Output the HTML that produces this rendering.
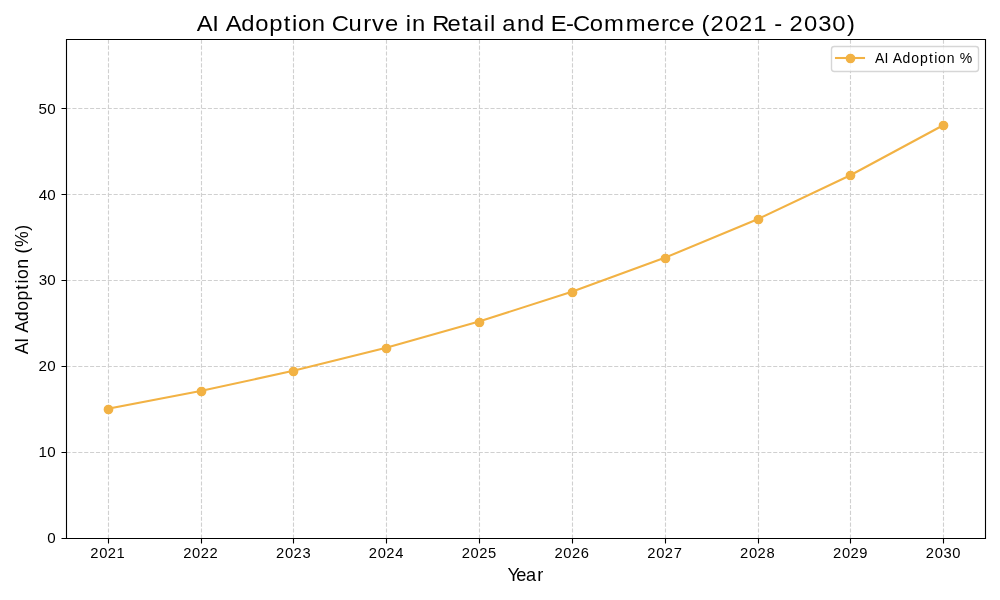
<!DOCTYPE html>
<html><head><meta charset="utf-8"><title>AI Adoption Curve in Retail and E-Commerce (2021 - 2030)</title>
<style>
html,body{margin:0;padding:0;background:#fff;width:1000px;height:600px;overflow:hidden}
svg{display:block;will-change:transform}
text{font-family:"Liberation Sans",sans-serif;fill:#000}
</style></head><body>
<svg width="1000" height="600" viewBox="0 0 1000 600">
<rect x="0" y="0" width="1000" height="600" fill="#fff"/>
<path d="M108.5 538.5V39 M201.5 538.5V39 M293.5 538.5V39 M386.5 538.5V39 M479.5 538.5V39 M572.5 538.5V39 M665.5 538.5V39 M758.5 538.5V39 M850.5 538.5V39 M943.5 538.5V39 M66.5 452.5H985 M66.5 366.5H985 M66.5 280.5H985 M66.5 194.5H985 M66.5 108.5H985" fill="none" stroke="#b0b0b0" stroke-opacity="0.6" stroke-width="1.1111" stroke-dasharray="4.1111 1.7778"/>
<path d="M108.5 538V543.5 M201.5 538V543.5 M293.5 538V543.5 M386.5 538V543.5 M479.5 538V543.5 M572.5 538V543.5 M665.5 538V543.5 M758.5 538V543.5 M850.5 538V543.5 M943.5 538V543.5 M67 538.5H61.5 M67 452.5H61.5 M67 366.5H61.5 M67 280.5H61.5 M67 194.5H61.5 M67 108.5H61.5" stroke="#000" stroke-width="1.1111" fill="none"/>
<polyline points="107.68,408.83 200.52,391.05 293.36,370.81 386.19,347.78 479.03,321.58 571.87,291.76 664.71,257.83 757.55,219.21 850.38,175.27 943.22,125.26" fill="none" stroke="#F2B244" stroke-width="2.0833" stroke-linejoin="round" stroke-linecap="square"/>
<circle cx="108.5" cy="409.5" r="4.1667" fill="#F2B244" stroke="#F2B244" stroke-width="1.3889"/>
<circle cx="201.5" cy="391.5" r="4.1667" fill="#F2B244" stroke="#F2B244" stroke-width="1.3889"/>
<circle cx="293.5" cy="371.5" r="4.1667" fill="#F2B244" stroke="#F2B244" stroke-width="1.3889"/>
<circle cx="386.5" cy="348.5" r="4.1667" fill="#F2B244" stroke="#F2B244" stroke-width="1.3889"/>
<circle cx="479.5" cy="322.5" r="4.1667" fill="#F2B244" stroke="#F2B244" stroke-width="1.3889"/>
<circle cx="572.5" cy="292.5" r="4.1667" fill="#F2B244" stroke="#F2B244" stroke-width="1.3889"/>
<circle cx="665.5" cy="258.5" r="4.1667" fill="#F2B244" stroke="#F2B244" stroke-width="1.3889"/>
<circle cx="758.5" cy="219.5" r="4.1667" fill="#F2B244" stroke="#F2B244" stroke-width="1.3889"/>
<circle cx="850.5" cy="175.5" r="4.1667" fill="#F2B244" stroke="#F2B244" stroke-width="1.3889"/>
<circle cx="943.5" cy="125.5" r="4.1667" fill="#F2B244" stroke="#F2B244" stroke-width="1.3889"/>
<path d="M66.5 538.5V39.5H985.5V538.5Z" fill="none" stroke="#000" stroke-width="1.1111" stroke-linejoin="miter"/>
<rect x="831.5" y="46.5" width="147" height="25" rx="2.7778" fill="#fff" fill-opacity="0.8" stroke="#cccccc" stroke-opacity="0.8" stroke-width="1.3889"/>
<path d="M834.96 58H865.04" stroke="#F2B244" stroke-width="2.0833"/>
<circle cx="850.5" cy="58.5" r="4.1667" fill="#F2B244" stroke="#F2B244" stroke-width="1.3889"/>
<text transform="scale(1.06 1.0)" x="85.15 93.57 101.66 110.01" y="558.000" font-size="13.89">2021</text>
<text transform="scale(1.06 1.0)" x="172.79 181.22 189.30 197.55" y="558.000" font-size="13.89">2022</text>
<text transform="scale(1.06 1.0)" x="260.37 268.80 276.88 285.33" y="558.000" font-size="13.89">2023</text>
<text transform="scale(1.06 1.0)" x="347.95 356.38 364.46 372.89" y="558.000" font-size="13.89">2024</text>
<text transform="scale(1.06 1.0)" x="435.54 443.97 452.05 460.42" y="558.000" font-size="13.89">2025</text>
<text transform="scale(1.06 1.0)" x="523.06 531.49 539.57 548.00" y="558.000" font-size="13.89">2026</text>
<text transform="scale(1.06 1.0)" x="610.70 619.13 627.21 635.61" y="558.000" font-size="13.89">2027</text>
<text transform="scale(1.06 1.0)" x="698.23 706.66 714.74 723.16" y="558.000" font-size="13.89">2028</text>
<text transform="scale(1.06 1.0)" x="785.81 794.24 802.32 810.71" y="558.000" font-size="13.89">2029</text>
<text transform="scale(1.06 1.0)" x="873.45 881.88 890.15 898.39" y="558.000" font-size="13.89">2030</text>
<text transform="scale(1.1 1.02)" x="43.07" y="532.353" font-size="13.79">0</text>
<text transform="scale(1.1 1.02)" x="34.93 43.07" y="448.039" font-size="13.79">10</text>
<text transform="scale(1.1 1.02)" x="34.95 43.07" y="363.725" font-size="13.79">20</text>
<text transform="scale(1.1 1.02)" x="35.13 43.07" y="279.412" font-size="13.79">30</text>
<text transform="scale(1.1 1.02)" x="35.12 43.07" y="196.078" font-size="13.79">40</text>
<text transform="scale(1.1 1.02)" x="35.07 43.07" y="111.765" font-size="13.79">50</text>
<text transform="scale(1.04 0.96)" x="189.22 204.19 210.68 216.99 231.91 245.38 258.85 272.84 280.74 286.48 299.86 313.21 318.91 335.11 349.31 357.82 370.09 383.16 390.23 396.25 409.60 415.73 430.31 444.11 450.94 465.11 471.11 476.91 482.91 497.10 510.52 524.02 529.69 544.16 551.00 567.01 580.87 601.66 621.77 635.61 642.93 655.07 668.14 674.55 683.21 697.07 710.49 724.23 737.73 744.41 752.39 759.17 773.03 786.76 800.32 814.53" y="32.292" font-size="22.9">AI Adoption Curve in Retail and E-Commerce (2021 - 2030)</text>
<text transform="scale(1.04 1.05)" x="487.89 496.50 505.69 516.67" y="553.333" font-size="17.5">Year</text>
<g transform="translate(28 354.15) rotate(-90)"><text transform="scale(1.01 1.0)" x="-0.20 11.26 16.28 21.09 32.58 42.88 53.20 63.88 69.91 74.32 84.56 94.75 99.61 106.12 122.28" y="0" font-size="17.5">AI Adoption (%)</text></g>
<text transform="scale(0.96 0.96)" x="911.41 921.34 925.67 930.03 940.03 949.21 958.32 967.71 973.06 977.07 986.11 994.94 999.61" y="65.625" font-size="14.6">AI Adoption %</text>
</svg>
</body></html>
